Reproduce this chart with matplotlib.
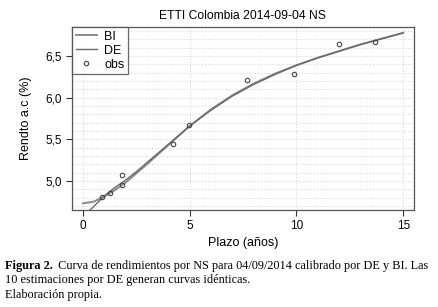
import matplotlib.pyplot as plt
from matplotlib.ticker import FuncFormatter, MultipleLocator

# observed yields
obs_x = [0.9, 1.25, 1.83, 1.83, 4.2, 4.98, 7.7, 9.9, 11.97, 13.66]
obs_y = [4.81, 4.86, 5.07, 4.95, 5.44, 5.67, 6.21, 6.28, 6.64, 6.67]

# fitted curves
bi_x = [0, 0.5, 1, 1.5, 2, 2.5, 3, 4, 5, 6, 7, 8, 9, 10, 11, 12, 13, 14, 15]
bi_y = [4.73, 4.75, 4.81, 4.89, 4.98, 5.09, 5.20, 5.43, 5.66, 5.86, 6.03, 6.17, 6.29, 6.39, 6.48, 6.56, 6.64, 6.71, 6.78]
de_x = [0.33, 0.5, 1, 1.5, 2, 2.5, 3, 4, 5, 6, 7, 8, 9, 10, 11, 12, 13, 14, 15]
de_y = [4.65, 4.69, 4.82, 4.92, 5.01, 5.11, 5.22, 5.44, 5.66, 5.85, 6.02, 6.16, 6.28, 6.39, 6.48, 6.56, 6.64, 6.71, 6.78]

plt.rcParams['font.family'] = ['Liberation Sans', 'DejaVu Sans']

fig = plt.figure(figsize=(4.38, 3.07), dpi=100)
ax = fig.add_axes([0.164, 0.316, 0.781, 0.596])

ax.plot(bi_x, bi_y, color='#8a8a8a', lw=1.4, label='BI', zorder=3)
ax.plot(de_x, de_y, color='#6a6a6a', lw=1.0, label='DE', zorder=3)
ax.plot(obs_x, obs_y, 'o', ms=3.2, mfc='none', mec='#444444', mew=0.8,
        label='obs', zorder=4)

ax.set_xlim(-0.52, 15.5)
ax.set_ylim(4.65, 6.85)
ax.set_xticks([0, 5, 10, 15])
ax.set_yticks([5.0, 5.5, 6.0, 6.5])
ax.yaxis.set_minor_locator(MultipleLocator(0.1))
ax.yaxis.set_major_formatter(FuncFormatter(lambda v, p: f'{v:.1f}'.replace('.', ',')))
ax.tick_params(which='major', direction='out', length=4, width=0.8,
               labelsize=8.5, color='#333333', pad=3)
ax.tick_params(which='minor', length=0)
ax.grid(True, which='both', axis='y', color='#d8d8d8', ls=':', lw=0.8)
ax.grid(True, which='major', axis='x', color='#d8d8d8', ls=':', lw=0.8)
ax.set_axisbelow(True)
for s in ax.spines.values():
    s.set_color('#555555')
    s.set_linewidth(0.9)

ax.set_title('ETTI Colombia 2014-09-04 NS', fontsize=8.7, pad=6)
ax.set_xlabel('Plazo (años)', fontsize=9, labelpad=4)
ax.set_ylabel('Rendto a.c (%)', fontsize=9, labelpad=10)

leg = ax.legend(loc='upper left', borderaxespad=0, fontsize=9, frameon=True,
                fancybox=False, handlelength=1.7, handletextpad=0.6,
                borderpad=0.3, labelspacing=0.15)
leg.get_frame().set_edgecolor('#444444')
leg.get_frame().set_linewidth(0.9)

serif = ['Liberation Serif', 'DejaVu Serif']
fs = 8.8
fig.text(0.012, 0.125, 'Figura 2.', fontsize=fs, fontweight='bold', family=serif)
fig.text(0.125, 0.125, ' Curva de rendimientos por NS para 04/09/2014 calibrado por DE y BI. Las',
         fontsize=fs, family=serif)
fig.text(0.012, 0.077, '10 estimaciones por DE generan curvas idénticas.', fontsize=fs, family=serif)
fig.text(0.012, 0.03, 'Elaboración propia.', fontsize=fs, family=serif)

fig.savefig('out.png', dpi=100)
